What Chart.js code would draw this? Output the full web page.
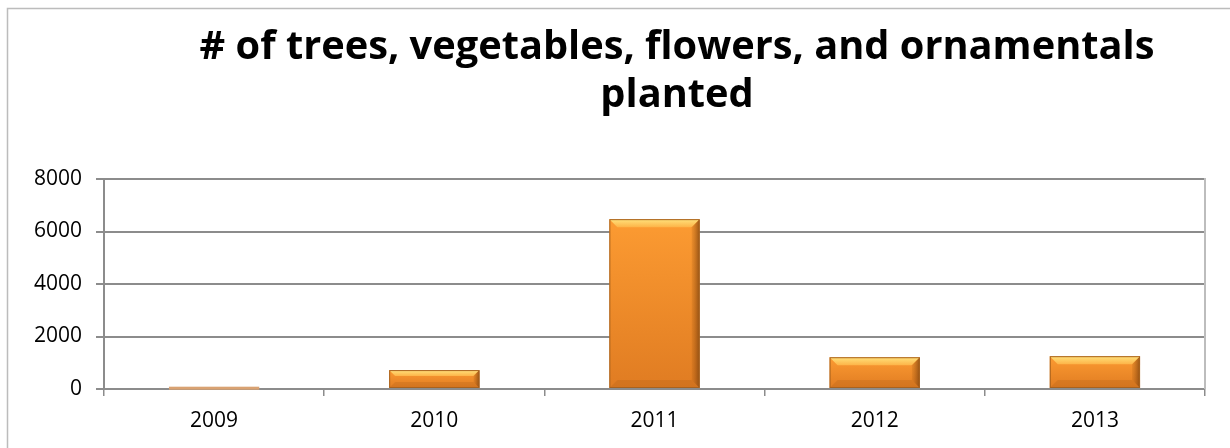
<!DOCTYPE html>
<html>
<head>
<meta charset="utf-8">
<script src="https://cdn.jsdelivr.net/npm/chart.js@4/dist/chart.umd.min.js"></script>
<style>
html,body{margin:0;padding:0;background:#fff;}
#wrap{width:1230px;height:448px;position:relative;}
</style>
</head>
<body>
<div id="wrap"><canvas id="c" width="1230" height="448"></canvas></div>
<script>
const titleLines = ["# of trees, vegetables, flowers, and ornamentals", "planted"];
const categories = ["2009", "2010", "2011", "2012", "2013"];
const planted = [50, 720, 6470, 1210, 1250];
const yTicks = [0, 2000, 4000, 6000, 8000];

const decor = {
  id: 'decor',
  beforeDraw(chart) {
    const ctx = chart.ctx;
    ctx.save();
    ctx.fillStyle = '#fff';
    ctx.fillRect(0, 0, chart.width, chart.height);
    ctx.strokeStyle = '#bcbcbc';
    ctx.lineWidth = 1.5;
    ctx.strokeRect(7.5, 8.5, 1400, 600);
    ctx.fillStyle = '#000';
    ctx.textAlign = 'center';
    ctx.textBaseline = 'alphabetic';
    let size = 40;
    ctx.font = 'bold ' + size + 'px "Open Sans"';
    const w = ctx.measureText(titleLines[0]).width;
    size = size * 955 / w;
    ctx.font = 'bold ' + size.toFixed(2) + 'px "Open Sans"';
    ctx.fillText(titleLines[0], 677, 59);
    ctx.fillText(titleLines[1], 677, 107);
    ctx.restore();
  },
  afterDraw(chart) {
    const ctx = chart.ctx;
    const a = chart.chartArea;
    ctx.save();
    ctx.strokeStyle = '#bdbdbd';
    ctx.lineWidth = 2;
    ctx.beginPath();
    ctx.moveTo(a.right, a.top - 1);
    ctx.lineTo(a.right, a.bottom);
    ctx.stroke();
    ctx.restore();
  },
  afterDatasetsDraw(chart) {
    const ctx = chart.ctx;
    const meta = chart.getDatasetMeta(0);
    ctx.save();
    meta.data.forEach(bar => {
      const l = bar.x - bar.width / 2, r = bar.x + bar.width / 2;
      const t = bar.y, b = bar.base;
      const h = b - t;
      if (h < 4) {
        ctx.fillStyle = '#d9a272';
        ctx.fillRect(l, t - 1, r - l, Math.max(h, 2) + 1);
        return;
      }
      // body gradient per bar
      let g = ctx.createLinearGradient(0, t, 0, b);
      g.addColorStop(0, '#fc9b32');
      g.addColorStop(1, '#e07c22');
      ctx.fillStyle = g;
      ctx.fillRect(l, t, r - l, h);
      const bev = Math.min(8, h / 3);
      g = ctx.createLinearGradient(0, t, 0, t + bev);
      g.addColorStop(0, '#ffe27c');
      g.addColorStop(1, '#fdb448');
      ctx.fillStyle = g;
      ctx.beginPath();
      ctx.moveTo(l, t); ctx.lineTo(r, t); ctx.lineTo(r - bev, t + bev); ctx.lineTo(l + bev, t + bev); ctx.closePath();
      ctx.fill();
      g = ctx.createLinearGradient(r - bev, 0, r, 0);
      g.addColorStop(0, 'rgba(160,85,15,0.15)');
      g.addColorStop(1, 'rgba(110,55,10,0.7)');
      ctx.fillStyle = g;
      ctx.beginPath();
      ctx.moveTo(r, t); ctx.lineTo(r, b); ctx.lineTo(r - bev, b - bev); ctx.lineTo(r - bev, t + bev); ctx.closePath();
      ctx.fill();
      ctx.fillStyle = 'rgba(150,80,15,0.18)';
      ctx.beginPath();
      ctx.moveTo(l, b); ctx.lineTo(r, b); ctx.lineTo(r - bev, b - bev); ctx.lineTo(l + bev, b - bev); ctx.closePath();
      ctx.fill();
      ctx.strokeStyle = '#a8621e';
      ctx.lineWidth = 1;
      ctx.strokeRect(l + 0.5, t + 0.5, r - l - 1, h - 1);
    });
    ctx.restore();
  }
};

new Chart(document.getElementById('c'), {
  type: 'bar',
  data: {
    labels: categories,
    datasets: [{
      data: planted,
      backgroundColor: 'rgba(0,0,0,0)',
      borderWidth: 0,
      barPercentage: 0.41,
      categoryPercentage: 1.0
    }]
  },
  options: {
    responsive: false,
    animation: false,
    events: [],
    layout: { padding: { left: 0, right: 25, top: 179, bottom: 0 } },
    plugins: { legend: { display: false }, title: { display: false }, tooltip: { enabled: false } },
    scales: {
      x: {
        afterFit: (s) => { s.height = 59; },
        grid: { offset: true, drawOnChartArea: false, drawTicks: true, tickLength: 7, color: '#8c8c8c', lineWidth: 1.5 },
        border: { color: '#8c8c8c', width: 2 },
        ticks: { color: '#000', padding: 12, maxRotation: 0, font: { family: '"Open Sans"', size: 21 } }
      },
      y: {
        min: 0, max: 8000,
        afterFit: (s) => { s.width = 104; },
        afterBuildTicks: (s) => { s.ticks = yTicks.map(v => ({ value: v })); },
        grid: { color: '#8c8c8c', lineWidth: 2, tickLength: 8 },
        border: { color: '#8c8c8c', width: 2 },
        ticks: { color: '#000', padding: 14, font: { family: '"Open Sans"', size: 21 }, callback: (v) => String(v) }
      }
    }
  },
  plugins: [decor]
});
</script>
</body>
</html>
